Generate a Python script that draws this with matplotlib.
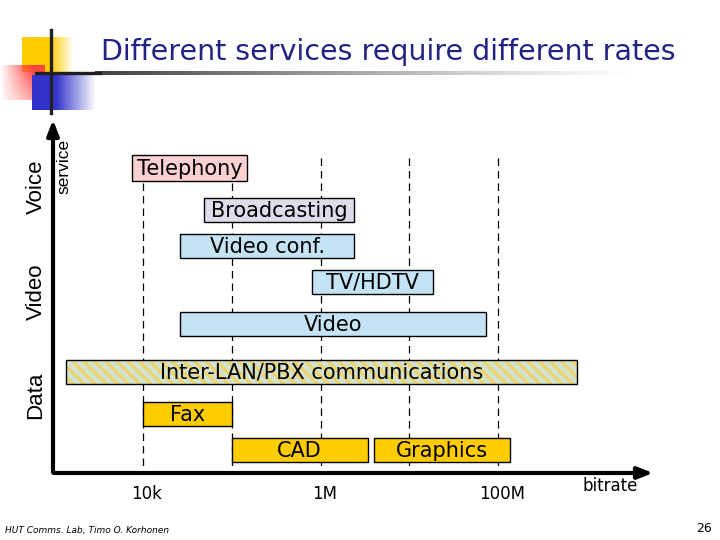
import numpy as np
import matplotlib
matplotlib.use("Agg")
import matplotlib.pyplot as plt

# services and their bitrate ranges (bit/s)
services = ["Telephony", "Broadcasting", "Video conf.", "TV/HDTV", "Video",
            "Inter-LAN/PBX communications", "Fax", "CAD", "Graphics"]
low_bps = [7.5e3, 4.9e4, 2.6e4, 8.0e5, 2.6e4, 1.35e3, 1e4, 1e5, 4.0e6]
high_bps = [1.5e5, 2.4e6, 2.4e6, 1.85e7, 7.3e7, 7.8e8, 1e5, 3.4e6, 1.35e8]
rows = [168, 210, 246, 282, 324, 372, 414, 450, 450]
heights = [26, 24, 24, 24, 24, 24, 24, 24, 24]
colors = ["#fbd0d0", "#dcdde9", "#c4e4f6", "#c4e4f6", "#c4e4f6",
          "#d3e2cf", "#ffcc00", "#ffcc00", "#ffcc00"]
tick_vals = [1e4, 1e6, 1e8]
tick_labels = ["10k", "1M", "100M"]
grid_vals = [1e4, 1e5, 1e6, 1e7, 1e8]
groups = ["Voice", "Video", "Data"]
group_y = [187, 292, 395]

fig = plt.figure(figsize=(7.2, 5.4), dpi=100)

# background / decoration layer in pixel units
deco = fig.add_axes([0, 0, 1, 1])
deco.set_xlim(0, 720)
deco.set_ylim(540, 0)
deco.axis("off")

def grad(rgb, alpha):
    img = np.zeros(alpha.shape + (4,))
    img[..., :3] = rgb
    img[..., 3] = alpha
    return img

xs = np.linspace(0, 1, 100)[None, :]
ys = np.linspace(0, 1, 50)[:, None]
a_y = np.clip((1 - xs) * 2.2, 0, 1) * np.ones_like(ys)
deco.imshow(grad((1, 0.8, 0), a_y), extent=[22, 74, 72, 37], aspect="auto", zorder=1)
a_r = np.clip(xs * 1.4, 0, 1) * (1 - 0.55 * ys)
deco.imshow(grad((1, 0.25, 0.25), a_r), extent=[0, 45, 100, 65], aspect="auto", zorder=2)
a_b = np.clip((1 - xs) * 1.6, 0, 1) * np.ones_like(ys)
deco.imshow(grad((0.2, 0.2, 0.8), a_b), extent=[32, 96, 110, 75], aspect="auto", zorder=2)
a_l = (1 - xs) ** 1.2 * np.ones((3, 1))
deco.imshow(grad((0.25, 0.25, 0.25), a_l), extent=[95, 640, 75, 71.5], aspect="auto", zorder=2)
deco.plot([51, 51], [30, 113], color="#202020", lw=2.4, zorder=3)
deco.plot([36, 100], [73, 73], color="#202020", lw=2.4, zorder=3)

deco.text(388, 52, "Different services require different rates", ha="center", va="center",
          fontsize=20.5, color="#222284")

# axes arrows
deco.annotate("", xy=(53, 117), xytext=(53, 475),
              arrowprops=dict(arrowstyle="-|>,head_length=0.9,head_width=0.35", lw=3, color="black"))
deco.annotate("", xy=(656, 473), xytext=(51, 473),
              arrowprops=dict(arrowstyle="-|>,head_length=0.9,head_width=0.35", lw=3, color="black"))

for g, gy in zip(groups, group_y):
    deco.text(36, gy, g, rotation=90, ha="center", va="center", fontsize=16,
              family="Liberation Sans")
deco.text(64, 166, "service", rotation=90, ha="center", va="center", fontsize=12.5,
          family="Liberation Sans")
deco.text(610, 486, "bitrate", ha="center", va="center", fontsize=12)
deco.text(5, 530, "HUT Comms. Lab, Timo O. Korhonen", ha="left", va="center",
          fontsize=6.5, style="italic")
deco.text(712, 528, "26", ha="right", va="center", fontsize=9)

# main chart on log bitrate scale
ax = fig.add_axes([0, 0, 1, 1])
ax.patch.set_alpha(0)
ax.set_xscale("log")
ax.set_xlim(10 ** (4 - 143 / 88.75), 10 ** (4 + 577 / 88.75))
ax.set_ylim(540, 0)
ax.axis("off")

ax.vlines(grid_vals, 158, 472, colors="black", lw=0.9, linestyles=(0, (6, 4)), zorder=1)

plt.rcParams["hatch.linewidth"] = 2.2
for i, name in enumerate(services):
    w = high_bps[i] - low_bps[i]
    if name.startswith("Inter"):
        ax.barh(rows[i], w, left=low_bps[i], height=heights[i], color=colors[i],
                edgecolor="#ecd36a", hatch="\\\\\\", lw=0, zorder=2)
        ax.barh(rows[i], w, left=low_bps[i], height=heights[i], fill=False,
                edgecolor="black", lw=1, zorder=3)
    else:
        ax.barh(rows[i], w, left=low_bps[i], height=heights[i], color=colors[i],
                edgecolor="black", lw=1, zorder=2)
    xc = np.sqrt(low_bps[i] * high_bps[i])
    ax.text(xc, rows[i] + 1, name, ha="center", va="center", fontsize=15, zorder=4)

for v, t in zip(tick_vals, tick_labels):
    ax.text(v * 1.1, 494, t, ha="center", va="center", fontsize=12)

fig.savefig("out.png", dpi=100)
